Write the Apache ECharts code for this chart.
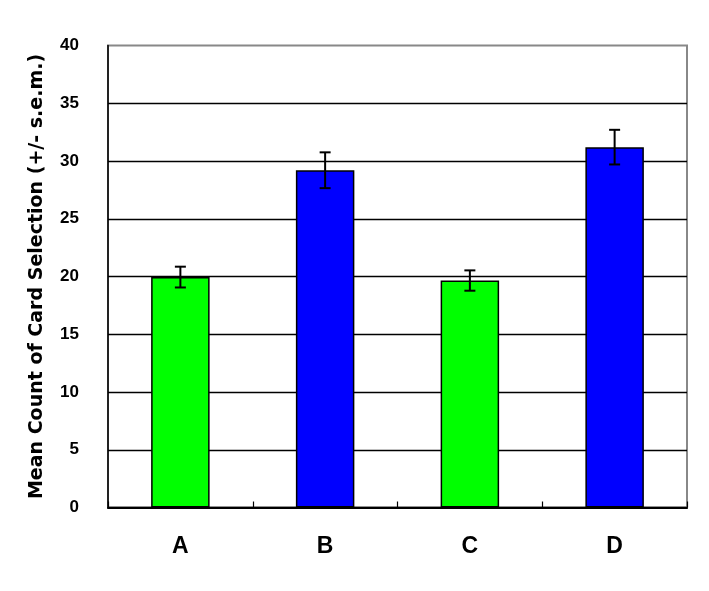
<!DOCTYPE html>
<html>
<head>
<meta charset="utf-8">
<script src="https://cdn.jsdelivr.net/npm/echarts@6/dist/echarts.min.js"></script>
<style>
html,body{margin:0;padding:0;background:#fff;}
#main{width:709px;height:591px;}
</style>
</head>
<body>
<div id="main"></div>
<script>
const categories = ['A', 'B', 'C', 'D'];
const means = [19.95, 29.2, 19.65, 31.2];
const sems = [0.9, 1.55, 0.88, 1.5];
const barColors = ['#00FF00', '#0000FF', '#00FF00', '#0000FF'];
const yTicks = [0, 5, 10, 15, 20, 25, 30, 35, 40];

const narrow = "'Liberation Sans Narrow', 'Arial Narrow', 'Liberation Sans', Arial, sans-serif";

const chart = echarts.init(document.getElementById('main'));
chart.setOption({
  animation: false,
  backgroundColor: '#fff',
  grid: {
    left: 108, right: 22, top: 45.5, bottom: 83.5,
    show: true, borderColor: '#888', borderWidth: 2, backgroundColor: 'transparent'
  },
  xAxis: {
    type: 'category',
    data: categories,
    axisLine: { lineStyle: { color: '#000', width: 2 } },
    axisTick: { show: true, inside: true, length: 6, lineStyle: { color: '#000', width: 1.2 } },
    axisLabel: { margin: 28, fontFamily: narrow, fontWeight: 'bold', fontSize: 23, color: '#000' }
  },
  yAxis: {
    type: 'value',
    min: yTicks[0], max: yTicks[yTicks.length - 1], interval: 5,
    name: 'Mean Count of Card Selection (+/- s.e.m.)',
    nameLocation: 'middle',
    nameGap: 61,
    nameTextStyle: { fontFamily: "'DejaVu Sans', sans-serif", fontWeight: 'bold', fontSize: 19, color: '#000' },
    axisLine: { show: true, lineStyle: { color: '#000', width: 1.5 } },
    axisTick: { show: false },
    axisLabel: { margin: 29, fontFamily: narrow, fontWeight: 'bold', fontSize: 17, color: '#000' },
    splitLine: { show: true, showMaxLine: false, lineStyle: { color: '#000', width: 1.3 } }
  },
  series: [
    {
      type: 'bar',
      data: means.map((v, i) => ({ value: v, itemStyle: { color: barColors[i] } })),
      barWidth: '40.4%',
      itemStyle: { borderColor: '#000', borderWidth: 1.5 },
      z: 3
    },
    {
      type: 'custom',
      z: 5,
      data: means.map((v, i) => [i, v - sems[i], v + sems[i]]),
      renderItem: function (params, api) {
        const x = api.value(0);
        const lo = api.coord([x, api.value(1)]);
        const hi = api.coord([x, api.value(2)]);
        const hw = 5.5;
        const st = { stroke: '#000', lineWidth: 2 };
        return {
          type: 'group',
          children: [
            { type: 'line', shape: { x1: lo[0], y1: lo[1], x2: hi[0], y2: hi[1] }, style: st },
            { type: 'line', shape: { x1: lo[0] - hw, y1: lo[1], x2: lo[0] + hw, y2: lo[1] }, style: st },
            { type: 'line', shape: { x1: hi[0] - hw, y1: hi[1], x2: hi[0] + hw, y2: hi[1] }, style: st }
          ]
        };
      }
    }
  ]
});
</script>
</body>
</html>
